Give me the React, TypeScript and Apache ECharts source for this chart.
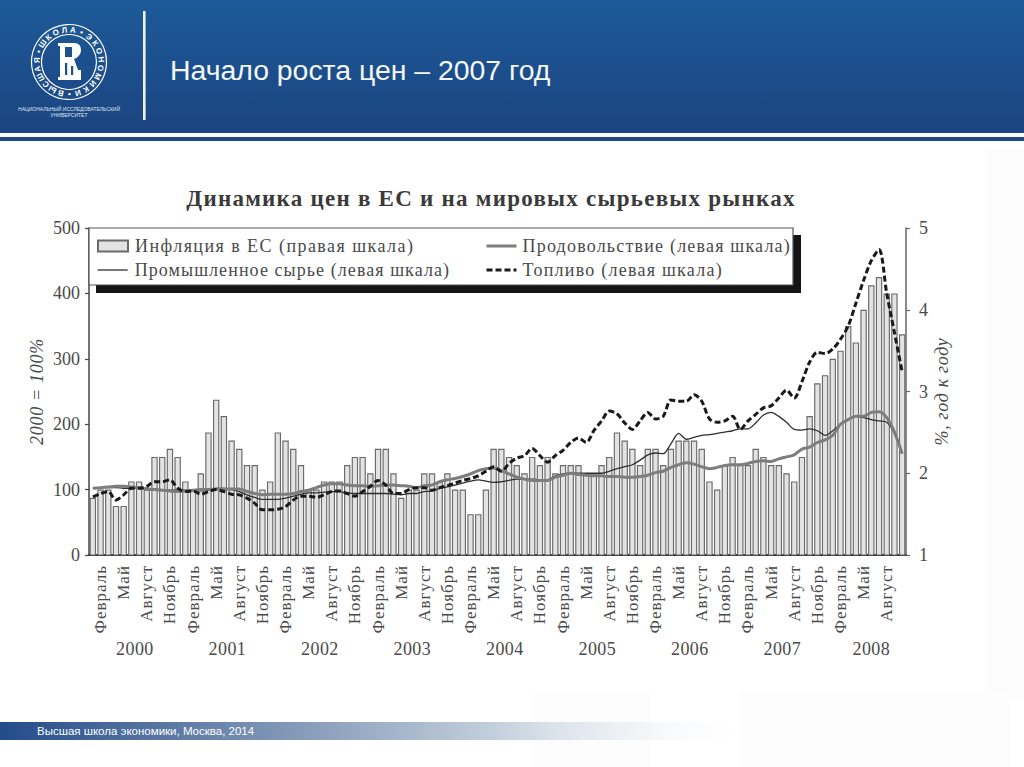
import React, { useEffect, useRef } from "react";
import * as echarts from "echarts";

const titleText = "Начало роста цен – 2007 год";
const chartTitle = "Динамика цен в ЕС и на мировых сырьевых рынках";
const footerText = "Высшая школа экономики, Москва, 2014";
const leftAxisName = "2000 = 100%";
const rightAxisName = "%, год к году";
const legendNames = ["Инфляция в ЕС (правая шкала)", "Промышленное сырье (левая шкала)", "Продовольствие (левая шкала)", "Топливо (левая шкала)"];
const legendTracking = [1.45, 1.07, 1.2, 1.25];
const yearNames = ["2000", "2001", "2002", "2003", "2004", "2005", "2006", "2007", "2008"];
const monthNames = ["Январь", "Февраль", "Март", "Апрель", "Май", "Июнь", "Июль", "Август", "Сентябрь", "Октябрь", "Ноябрь", "Декабрь"];

const inflation = [
  1.7, 1.8, 1.8, 1.6, 1.6, 1.9, 1.9, 1.8, 2.2, 2.2, 2.3, 2.2,
  1.9, 1.8, 2.0, 2.5, 2.9, 2.7, 2.4, 2.3, 2.1, 2.1, 1.8, 1.9,
  2.5, 2.4, 2.3, 2.1, 1.8, 1.8, 1.9, 1.9, 1.9, 2.1, 2.2, 2.2,
  2.0, 2.3, 2.3, 2.0, 1.7, 1.8, 1.8, 2.0, 2.0, 1.9, 2.0, 1.8,
  1.8, 1.5, 1.5, 1.8, 2.3, 2.3, 2.2, 2.1, 2.0, 2.2, 2.1, 2.2,
  2.0, 2.1, 2.1, 2.1, 2.0, 2.0, 2.1, 2.2, 2.5, 2.4, 2.3, 2.1,
  2.3, 2.3, 2.1, 2.3, 2.4, 2.4, 2.4, 2.3, 1.9, 1.8, 2.1, 2.2,
  2.1, 2.1, 2.3, 2.2, 2.1, 2.1, 2.0, 1.9, 2.2, 2.7, 3.1, 3.2,
  3.4, 3.5, 3.8, 3.6, 4.0, 4.3, 4.4, 4.2, 4.2, 3.7,
];
const industrial = [
  102, 103, 103, 103, 102, 102, 102, 102, 101, 100, 99, 99,
  99, 98, 98, 100, 102, 102, 100, 97, 92, 88, 85, 85,
  85, 87, 90, 93, 95, 95, 96, 97, 97, 95, 94, 94,
  94, 94, 94, 93, 92, 94, 94, 97, 98, 102, 104, 107,
  110, 113, 115, 113, 111, 112, 114, 116, 116, 116, 115, 115,
  121, 124, 125, 125, 125, 125, 125, 128, 132, 135, 138, 145,
  153, 156, 155, 170, 186, 177, 180, 183, 184, 186, 188, 190,
  193, 193, 202, 214, 218, 212, 203, 192, 191, 193, 190, 183,
  190, 200, 208, 212, 210, 207, 205, 203, 186, 155,
];
const food = [
  102, 103, 104, 105, 105, 104, 103, 101, 100, 99, 98, 97,
  98, 99, 100, 100, 101, 101, 101, 101, 97, 94, 92, 93,
  93, 93, 94, 97, 99, 103, 107, 109, 109, 107, 106, 106,
  105, 106, 107, 107, 106, 105, 103, 106, 107, 112, 115, 117,
  120, 124, 129, 132, 133, 129, 124, 119, 116, 114, 114, 114,
  119, 122, 125, 123, 122, 121, 121, 120, 120, 119, 119, 120,
  122, 126, 128, 134, 138, 141, 139, 135, 132, 134, 137, 138,
  138, 140, 143, 144, 143, 147, 150, 153, 162, 165, 172, 176,
  183, 200, 207, 212, 212, 218, 219, 210, 188, 155,
];
const fuel = [
  89, 94, 97, 84, 92, 102, 102, 105, 112, 112, 115, 102,
  97, 98, 93, 97, 100, 97, 93, 92, 87, 79, 69, 69,
  70, 74, 84, 90, 90, 88, 92, 97, 98, 94, 90, 97,
  105, 114, 107, 94, 94, 100, 103, 103, 99, 103, 106, 110,
  114, 117, 121, 128, 135, 128, 140, 148, 152, 163, 152, 142,
  152, 160, 172, 179, 172, 190, 205, 220, 216, 202, 192, 205,
  218, 208, 212, 237, 235, 235, 245, 235, 208, 203, 205, 212,
  192, 205, 215, 225, 228, 240, 252, 240, 265, 295, 310, 308,
  315, 330, 350, 385, 420, 450, 467, 400, 340, 280,
];

const monthCategories = inflation.map((_, i) => monthNames[i % 12]);
const yearCategories = inflation.map((_, i) => yearNames[Math.floor(i / 12)]);

const SERIF = "'Liberation Serif', serif";
const SANS = "'Liberation Sans', Arial, sans-serif";
const INK = "#4a4a4a";

const GLYPH = "M0 0H16C21 0 23 3 23 7C23 12 19 15 16 16L20 27H23V37H0V34H2V3H0Z";
const RING = "ВЫСШАЯ•ШКОЛА•ЭКОНОМИКИ•";

function ringChars() {
  const cx = 69, cy = 62, r = 32;
  const step = 360 / RING.length;
  return RING.split("").map((ch, i) => {
    const a = ((-165 + i * step) * Math.PI) / 180;
    return {
      type: "text", z: 10,
      x: cx + r * Math.sin(a),
      y: cy - r * Math.cos(a),
      rotation: -a,
      style: { text: ch, fill: "#fff", font: "bold 8px " + SANS, align: "center", verticalAlign: "middle" },
    };
  });
}

function spacingFor(t: string) {
  if (t === chartTitle) return 1.25;
  const li = legendNames.indexOf(t);
  if (li >= 0) return legendTracking[li];
  if (monthNames.includes(t)) return 1;
  if (yearNames.includes(t)) return 0.4;
  if (t === leftAxisName || t === rightAxisName) return 0.7;
  return 0;
}

export default function App() {
  const ref = useRef<HTMLDivElement>(null);
  useEffect(() => {
    echarts.graphic.registerShape("hseGlyph", echarts.graphic.extendPath(GLYPH, {}));
    const chart = echarts.init(ref.current!, undefined, { renderer: "svg" });
    const legendBase = (name: string, left: number, top: number, lineWidth: number) => ({
      data: [name], left, top, padding: 0, itemWidth: 30, itemHeight: 11,
      selectedMode: false, z: 6,
      ...(lineWidth ? { itemStyle: { opacity: 0 }, lineStyle: { width: lineWidth } } : { icon: "rect" }),
      textStyle: { fontFamily: SERIF, fontSize: 18, color: INK, padding: [0, 0, 0, lineWidth === 3 ? 1 : 2] },
    });
    const hole = (x: number, y: number, w: number, h: number) => ({
      type: "rect", z: 12, shape: { x, y, width: w, height: h }, style: { fill: "#1d5190" },
    });
    chart.setOption({
      animation: false,
      backgroundColor: "#ffffff",
      grid: { left: 89, right: 118, top: 228, bottom: 212, containLabel: false },
      legend: [
        legendBase(legendNames[0], 97, 237, 0),
        legendBase(legendNames[1], 97, 261, 1.3),
        legendBase(legendNames[2], 485, 237, 3),
        legendBase(legendNames[3], 485, 261, 3),
      ],
      xAxis: [
        {
          type: "category", data: monthCategories, boundaryGap: true, position: "bottom",
          axisLine: { lineStyle: { color: "#333", width: 2 } },
          axisTick: { interval: 0, length: 5, lineStyle: { color: "#444", width: 1.2 } },
          axisLabel: {
            interval: (i: number) => i % 3 === 1, rotate: 90, margin: 10,
            fontFamily: SERIF, fontSize: 17, color: INK, hideOverlap: false,
          },
        },
        {
          type: "category", data: yearCategories, boundaryGap: true, position: "bottom",
          axisLine: { show: false },
          axisTick: { interval: (i: number) => i % 12 === 0, length: 100, lineStyle: { color: "#777", width: 1.5 } },
          axisLabel: {
            interval: (i: number) => i % 12 === 5, margin: 85,
            formatter: (v: string) => (v === "2008" ? `{b|${v}}` : `{a|${v}}`),
            rich: {
              a: { fontFamily: SERIF, fontSize: 18, color: INK, padding: [0, 0, 0, 7] },
              b: { fontFamily: SERIF, fontSize: 18, color: INK },
            },
          },
        },
      ],
      yAxis: [
        {
          type: "value", min: 0, max: 500, interval: 100, position: "left",
          splitLine: { show: false },
          axisLine: { show: true, lineStyle: { color: "#444", width: 1.5 } },
          axisTick: { show: true, length: 4, lineStyle: { color: "#444", width: 1.2 } },
          axisLabel: { margin: 9, fontFamily: SERIF, fontSize: 18, color: INK },
          name: leftAxisName, nameLocation: "middle", nameGap: 43, nameRotate: 90, nameMoveOverlap: false,
          nameTextStyle: { fontFamily: SERIF, fontStyle: "italic", fontSize: 18, color: INK },
        },
        {
          type: "value", min: 1, max: 5, interval: 1, position: "right",
          splitLine: { show: false },
          axisLine: { show: true, lineStyle: { color: "#666", width: 1.5 } },
          axisTick: { show: true, length: 4, lineStyle: { color: "#666", width: 1.2 } },
          axisLabel: { margin: 13, fontFamily: SERIF, fontSize: 18, color: INK },
          name: rightAxisName, nameLocation: "middle", nameGap: 27, nameRotate: 90, nameMoveOverlap: false,
          nameTextStyle: { fontFamily: SERIF, fontStyle: "italic", fontSize: 18, color: INK },
        },
      ],
      series: [
        {
          name: legendNames[0], type: "bar", yAxisIndex: 1, data: inflation,
          barWidth: 6.4, z: 2,
          itemStyle: { color: "#e3e3e3", borderColor: "#6a6a6a", borderWidth: 1.15 },
        },
        {
          name: legendNames[1], type: "line", yAxisIndex: 0, data: industrial,
          smooth: 0.3, symbol: "none", z: 3, itemStyle: { color: "#2e2e2e" }, lineStyle: { color: "#2e2e2e", width: 1.3 },
        },
        {
          name: legendNames[2], type: "line", yAxisIndex: 0, data: food,
          smooth: 0.3, symbol: "none", z: 4, itemStyle: { color: "#7d7d7d" }, lineStyle: { color: "#7d7d7d", width: 3 },
        },
        {
          name: legendNames[3], type: "line", yAxisIndex: 0, data: fuel,
          smooth: 0.3, symbol: "none", z: 5, itemStyle: { color: "#1a1a1a" }, lineStyle: { color: "#1a1a1a", width: 3, type: [6, 3] },
        },
      ],
      graphic: [
        { type: "rect", z: 0, shape: { x: 985, y: 150, width: 39, height: 550 }, style: { fill: "#fcfcfc" } },
        { type: "rect", z: 0, shape: { x: 530, y: 690, width: 120, height: 77 }, style: { fill: "#fdfdfd" } },
        { type: "rect", z: 0, shape: { x: 740, y: 690, width: 270, height: 77 }, style: { fill: "#fdfdfd" } },
        {
          type: "rect", z: 1, shape: { x: 0, y: 0, width: 1024, height: 133 },
          style: {
            fill: new echarts.graphic.LinearGradient(0, 0, 0, 1, [
              { offset: 0, color: "#1d5a99" },
              { offset: 1, color: "#1b4480" },
            ]),
          },
        },
        { type: "rect", z: 1, shape: { x: 0, y: 137, width: 1024, height: 4 }, style: { fill: "#1f4a80" } },
        { type: "rect", z: 2, shape: { x: 143, y: 11, width: 2.6, height: 109 }, style: { fill: "#eef2f7" } },
        { type: "circle", z: 10, shape: { cx: 69, cy: 62, r: 37.5 }, style: { fill: "none", stroke: "#fff", lineWidth: 1.2 } },
        { type: "circle", z: 10, shape: { cx: 69, cy: 62, r: 27.5 }, style: { fill: "none", stroke: "#fff", lineWidth: 1.2 } },
        ...ringChars(),
        { type: "hseGlyph", z: 11, x: 58, y: 43, style: { fill: "#fff" } },
        hole(65, 47, 7, 10),
        hole(65, 63, 2.2, 12), hole(71, 66, 2.2, 9),
        { type: "text", z: 10, x: 69, y: 109, style: { text: "НАЦИОНАЛЬНЫЙ ИССЛЕДОВАТЕЛЬСКИЙ", fill: "#dfe7f0", font: "5px " + SANS, align: "center", verticalAlign: "middle" } },
        { type: "text", z: 10, x: 69, y: 115, style: { text: "УНИВЕРСИТЕТ", fill: "#dfe7f0", font: "5px " + SANS, align: "center", verticalAlign: "middle" } },
        { type: "text", z: 10, x: 170, y: 70, style: { text: titleText, fill: "#f4f7fb", font: "28.4px " + SANS, align: "left", verticalAlign: "middle" } },
        { type: "text", z: 10, x: 491, y: 198, style: { text: chartTitle, fill: "#3a3a3a", font: "bold 23px " + SERIF, align: "center", verticalAlign: "middle" } },
        { type: "rect", z: 4, shape: { x: 96, y: 235, width: 705, height: 58 }, style: { fill: "#141414" } },
        { type: "rect", z: 5, shape: { x: 89, y: 228, width: 704, height: 57 }, style: { fill: "#fff", stroke: "#555", lineWidth: 1.2 } },
        {
          type: "rect", z: 1, shape: { x: 0, y: 722, width: 760, height: 18 },
          style: {
            fill: new echarts.graphic.LinearGradient(0, 0, 1, 0, [
              { offset: 0, color: "#234c8b" },
              { offset: 0.3, color: "#6f88ad" },
              { offset: 0.65, color: "#c3cfdc" },
              { offset: 1, color: "rgba(255,255,255,0)" },
            ]),
          },
        },
        { type: "text", z: 10, x: 37, y: 731, style: { text: footerText, fill: "#ffffff", font: "11.5px " + SANS, align: "left", verticalAlign: "middle" } },
      ],
    });
    // the book's typesetting is widely tracked: apply it to the rendered SVG texts
    chart.getDom().querySelectorAll("text").forEach((el: any) => {
      const s = spacingFor((el.textContent || "").trim());
      if (s) el.style.letterSpacing = s + "px";
    });
    return () => chart.dispose();
  }, []);
  return (
    <>
      <style>{`html,body{margin:0;padding:0;background:#fff}`}</style>
      <div ref={ref} style={{ position: "absolute", left: 0, top: 0, width: 1024, height: 767 }} />
    </>
  );
}
